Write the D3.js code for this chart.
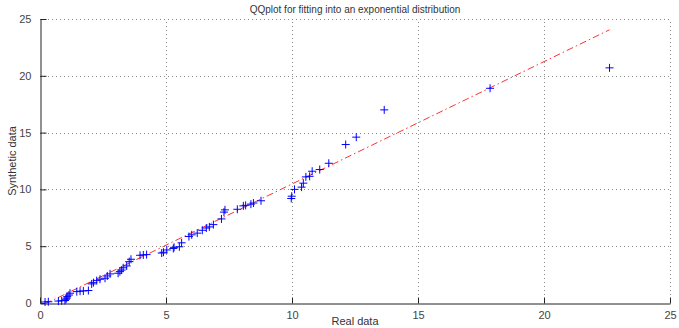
<!DOCTYPE html>
<html>
<head>
<meta charset="utf-8">
<script src="https://cdn.jsdelivr.net/npm/d3@7"></script>
<style>
  body { margin: 0; background: #fff; }
  svg { display: block; font-family: "Liberation Sans", Arial, sans-serif; }
</style>
</head>
<body>
<svg id="chart" width="679" height="328"></svg>
<script>
// sorted real data vs sorted synthetic data
const realData = [0.2, 0.33, 0.73, 0.86, 0.99, 1.03, 1.06, 1.08, 1.15, 1.19,
  1.46, 1.59, 1.72, 1.92, 2.05, 2.12, 2.25, 2.38, 2.58, 2.67,
  2.78, 3.1, 3.17, 3.24, 3.3, 3.44, 3.54, 3.61, 3.97, 4.1,
  4.23, 4.83, 4.9, 5.03, 5.29, 5.32, 5.53, 5.62, 5.91, 6.02,
  6.24, 6.44, 6.6, 6.72, 6.88, 7.2, 7.3, 7.34, 7.83, 8.07,
  8.16, 8.37, 8.47, 8.77, 9.97, 9.99, 10.1, 10.38, 10.45, 10.55,
  10.7, 10.8, 11.1, 11.46, 12.13, 12.55, 13.66, 17.86, 22.6];
const syntheticData = [0.09, 0.11, 0.17, 0.2, 0.22, 0.33, 0.43, 0.56, 0.7, 0.86,
  1.0, 1.04, 1.06, 1.1, 1.68, 1.79, 1.97, 2.09, 2.18, 2.38,
  2.56, 2.62, 2.76, 2.9, 3.1, 3.26, 3.64, 3.85, 4.2, 4.23,
  4.26, 4.4, 4.47, 4.67, 4.8, 4.9, 4.95, 5.3, 5.85, 6.0,
  6.15, 6.4, 6.6, 6.7, 6.9, 7.4, 8.0, 8.2, 8.25, 8.55,
  8.6, 8.7, 8.8, 9.0, 9.2, 9.4, 10.0, 10.2, 10.55, 11.1,
  11.15, 11.6, 11.75, 12.3, 13.95, 14.6, 17.0, 18.9, 20.7];
// reference line ends (x, y)
const fitLine = [[0.2, -0.08], [22.6, 24.05]];
const xTicks = [0, 5, 10, 15, 20, 25];
const yTicks = [0, 5, 10, 15, 20, 25];

const svg = d3.select("#chart");
const margin = { left: 40, right: 9, top: 19, bottom: 25 };
const W = 679, H = 328;

const x = d3.scaleLinear().domain([0, 25]).range([margin.left, W - margin.right]);
const y = d3.scaleLinear().domain([0, 25]).range([H - margin.bottom, margin.top]);

// grid
const grid = svg.append("g").attr("stroke", "#888").attr("stroke-dasharray", "1,3").attr("stroke-width", 1);
grid.selectAll(".gx").data(xTicks.slice(1)).join("line")
  .attr("x1", d => Math.round(x(d)) + 0.5).attr("x2", d => Math.round(x(d)) + 0.5)
  .attr("y1", y(0)).attr("y2", y(25));
grid.selectAll(".gy").data(yTicks.slice(1)).join("line")
  .attr("y1", d => Math.round(y(d)) + 0.5).attr("y2", d => Math.round(y(d)) + 0.5)
  .attr("x1", x(0)).attr("x2", x(25));

// axes
const xAxis = svg.append("g")
  .attr("transform", `translate(0,${Math.round(y(0)) + 0.5})`)
  .call(d3.axisBottom(x).tickValues(xTicks).tickSize(-6).tickPadding(8).tickSizeOuter(0));
const yAxis = svg.append("g")
  .attr("transform", `translate(${Math.round(x(0)) + 0.5},0)`)
  .call(d3.axisLeft(y).tickValues(yTicks).tickSize(-6).tickPadding(9).tickSizeOuter(0));
[xAxis, yAxis].forEach(g => {
  g.selectAll(".domain").attr("stroke", "#222");
  g.selectAll(".tick line").attr("stroke", "#222");
  g.selectAll("text").attr("fill", "#444").style("font-size", "11px")
    .style("font-family", "Liberation Sans, Arial, sans-serif");
});

// fit line
svg.append("path")
  .datum(fitLine)
  .attr("d", d3.line().x(d => x(d[0])).y(d => y(d[1])))
  .attr("fill", "none")
  .attr("stroke", "#ff3030")
  .attr("stroke-width", 1)
  .attr("stroke-dasharray", "7,3,1.5,3");

// + markers
const pts = realData.map((v, i) => [v, syntheticData[i]]);
const s = 4;
svg.append("g").selectAll("path").data(pts).join("path")
  .attr("d", d => {
    const px = x(d[0]), py = y(d[1]);
    return `M${px - s},${py}H${px + s}M${px},${py - s}V${py + s}`;
  })
  .attr("fill", "none")
  .attr("stroke", "#0000ff")
  .attr("stroke-width", 1);

// labels
svg.append("text").attr("x", 355).attr("y", 13).attr("text-anchor", "middle")
  .style("font-size", "10px").attr("fill", "#333")
  .text("QQplot for fitting into an exponential distribution");
svg.append("text").attr("x", 355).attr("y", 325).attr("text-anchor", "middle")
  .style("font-size", "11px").attr("fill", "#333").text("Real data");
svg.append("text").attr("transform", "translate(16,161) rotate(-90)").attr("text-anchor", "middle")
  .style("font-size", "11px").attr("fill", "#333").text("Synthetic data");
</script>
</body>
</html>
